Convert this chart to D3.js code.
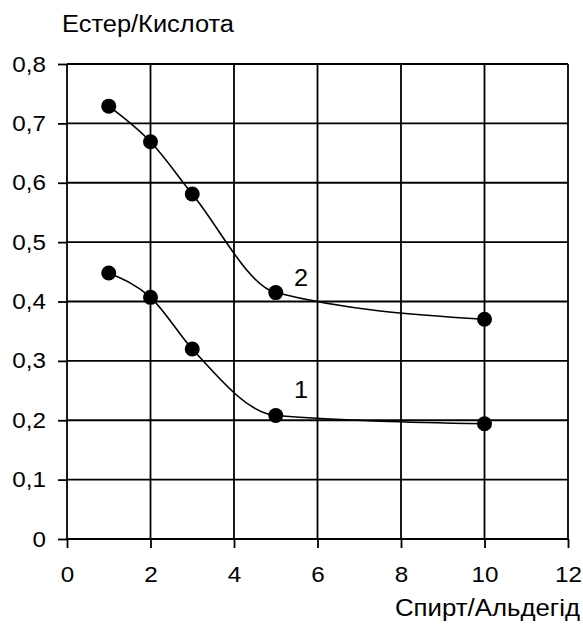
<!DOCTYPE html>
<html>
<head>
<meta charset="utf-8">
<script src="https://cdn.jsdelivr.net/npm/d3@7"></script>
<style>
  body { margin: 0; background: #fff; }
  text { font-family: "Liberation Sans", Arial, sans-serif; fill: #000; }
</style>
</head>
<body>
<svg id="chart"></svg>
<script>
var xTicks = [0, 2, 4, 6, 8, 10, 12];
var yTicks = [0, 0.1, 0.2, 0.3, 0.4, 0.5, 0.6, 0.7, 0.8];
var ratio = [1, 2, 3, 5, 10];
var series1 = [0.448, 0.407, 0.32, 0.208, 0.194];
var series2 = [0.729, 0.669, 0.581, 0.415, 0.370];
var seriesNames = ["1", "2"];
var labelPos = [[5.44, 0.237], [5.44, 0.426]];
var yLabel = "Естер/Кислота";
var xLabel = "Спирт/Альдегід";

var width = 583, height = 625;
var margin = {top: 64, right: 15, bottom: 86, left: 67};
var stretch = 1.1;

var svg = d3.select("#chart")
  .attr("width", width)
  .attr("height", height);

var x = d3.scaleLinear().domain([0, 12]).range([margin.left, width - margin.right]);
var y = d3.scaleLinear().domain([0, 0.8]).range([height - margin.bottom, margin.top]);

var fmt = function (d) { return d === 0 ? "0" : d3.format(".1f")(d).replace(".", ","); };

// grid
var grid = svg.append("g");
grid.selectAll(".vline")
  .data(xTicks)
  .enter().append("line")
    .attr("x1", function (d) { return x(d); })
    .attr("x2", function (d) { return x(d); })
    .attr("y1", y(0.8))
    .attr("y2", y(0))
    .style("stroke", "#000")
    .style("stroke-width", 1.8);
grid.selectAll(".hline")
  .data(yTicks)
  .enter().append("line")
    .attr("x1", x(0))
    .attr("x2", x(12))
    .attr("y1", function (d) { return y(d); })
    .attr("y2", function (d) { return y(d); })
    .style("stroke", "#000")
    .style("stroke-width", 1.8);

// axes
var xAxis = svg.append("g")
  .attr("transform", "translate(0," + y(0) + ")")
  .call(d3.axisBottom(x).tickValues(xTicks).tickSize(9).tickPadding(18).tickFormat(d3.format("d")));
var yAxis = svg.append("g")
  .attr("transform", "translate(" + x(0) + ",0)")
  .call(d3.axisLeft(y).tickValues(yTicks).tickSize(9).tickPadding(12).tickFormat(fmt));

[xAxis, yAxis].forEach(function (a) {
  a.select(".domain").remove();
  a.selectAll(".tick line").style("stroke", "#000").style("stroke-width", 1.8);
  a.selectAll(".tick text")
    .style("font-family", "'Liberation Sans', Arial, sans-serif")
    .style("font-size", "22px")
    .style("fill", "#000")
    .attr("transform", "scale(" + stretch + ",1)");
});
yAxis.selectAll(".tick text").attr("x", -21 / stretch);

// curves
var line = d3.line()
  .x(function (d) { return x(d[0]); })
  .y(function (d) { return y(d[1]); })
  .curve(d3.curveMonotoneX);

[series1, series2].forEach(function (s, i) {
  var pts = ratio.map(function (r, j) { return [r, s[j]]; });
  svg.append("path")
    .datum(pts)
    .attr("d", line)
    .style("fill", "none")
    .style("stroke", "#000")
    .style("stroke-width", 1.6);
  svg.selectAll(".dot" + i)
    .data(pts)
    .enter().append("circle")
      .attr("cx", function (d) { return x(d[0]); })
      .attr("cy", function (d) { return y(d[1]); })
      .attr("r", 7.5)
      .style("fill", "#000");
  svg.append("text")
    .attr("transform", "translate(" + x(labelPos[i][0]) + "," + y(labelPos[i][1]) + ") scale(" + stretch + ",1)")
    .style("font-size", "23px")
    .text(seriesNames[i]);
});

// axis titles
svg.append("text")
  .attr("x", 62)
  .attr("y", 32)
  .attr("textLength", 172)
  .attr("lengthAdjust", "spacingAndGlyphs")
  .style("font-size", "23px")
  .text(yLabel);
svg.append("text")
  .attr("x", 395)
  .attr("y", 616)
  .attr("textLength", 185)
  .attr("lengthAdjust", "spacingAndGlyphs")
  .style("font-size", "23px")
  .text(xLabel);
</script>
</body>
</html>
